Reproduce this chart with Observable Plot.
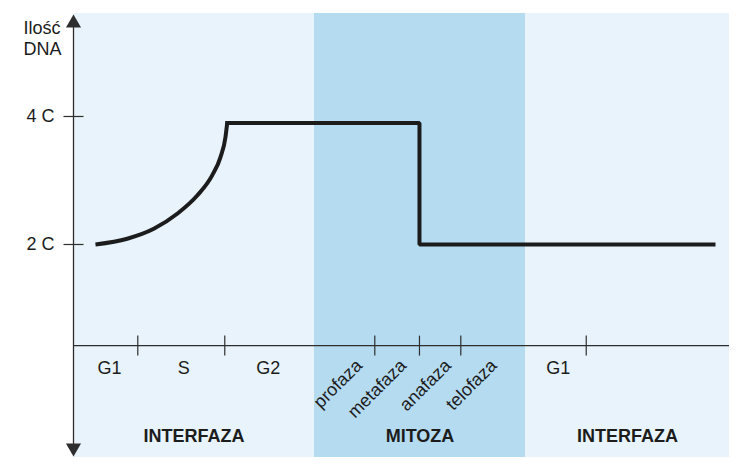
<!DOCTYPE html>
<html lang="pl">
<head>
<meta charset="utf-8">
<script src="https://cdn.jsdelivr.net/npm/d3@7"></script>
<script src="https://cdn.jsdelivr.net/npm/@observablehq/plot@0.6"></script>
<style>
  html, body { margin: 0; padding: 0; background: #fff; }
  #chart svg { display: block; }
</style>
</head>
<body>
<div id="chart"></div>
<script>
// Cell-cycle time runs 0–100 along x; the amount of DNA is in units of C on y.

// Phases shaded behind the curve
const phaseNames = ["INTERFAZA", "MITOZA", "INTERFAZA"];
const phaseStart = [0, 36.74, 68.9];
const phaseEnd = [36.74, 68.9, 100];

// Stage boundaries marked on the time axis
const stageTicks = [9.8, 23.06, 45.93, 52.74, 59.04, 78.16];

// Stage names and where each label sits along the time axis
const stageNames = ["G1", "S", "G2", "profaza", "metafaza", "anafaza", "telofaza", "G1"];
const stageLabelX = [5.5, 16.8, 29.7, 43.55, 50.26, 57.1, 64.07, 73.9];

// DNA amount: rise during S phase
const sPhaseTime = [3.35, 8.19, 12.24, 15.81, 18.86, 21.14, 22.41, 23.17, 23.43];
const sPhaseDNA = [2.0, 2.09, 2.245, 2.48, 2.765, 3.08, 3.365, 3.68, 3.9];

// DNA amount: G2 plateau, drop at anaphase, back to the G1 level
const stepTime = [23.43, 52.74, 52.74, 97.56];
const stepDNA = [3.9, 3.9, 2.0, 2.0];

// Vertical axis
const yTicks = [2, 4];
const yTickLabels = ["2 C", "4 C"];
const yTitle = "Ilość\nDNA";

// Level of the time axis line
const timeBaseline = 0.42;

// ---- tables built from the arrays above ----
const phases = phaseNames.map((name, i) => ({name, start: phaseStart[i], end: phaseEnd[i]}));
const inMitosis = (t) => t >= phaseStart[1] && t <= phaseEnd[1];
const stages = stageNames.map((name, i) => ({name, x: stageLabelX[i], rotated: inMitosis(stageLabelX[i])}));
const sPhase = sPhaseTime.map((t, i) => ({t, dna: sPhaseDNA[i]}));
const steps = stepTime.map((t, i) => ({t, dna: stepDNA[i]}));
const yAxis = yTicks.map((v, i) => ({v, label: yTickLabels[i]}));

// ---- styling ----
const ink = "#1c1c1c";
const axisInk = "#2e2e2e";
const lightBlue = "#e8f3fb";
const darkBlue = "#b5dbf0";
const labelSize = 18;

// short line symbols used for tick marks
const vline = {draw(ctx, size) { const r = Math.sqrt(size / Math.PI); ctx.moveTo(0, -r); ctx.lineTo(0, r); }};
const hline = {draw(ctx, size) { const r = Math.sqrt(size / Math.PI); ctx.moveTo(-r, 0); ctx.lineTo(r, 0); }};

const chart = Plot.plot({
  width: 750,
  height: 470,
  marginLeft: 73,
  marginRight: 21,
  marginTop: 13,
  marginBottom: 13,
  x: {domain: [0, 100], axis: null},
  y: {domain: [-1.328, 5.609], axis: null},
  style: {fontFamily: "'Liberation Sans', Arial, Helvetica, sans-serif", fontSize: "18px", color: ink, background: "#fff"},
  marks: [
    // phase backgrounds
    Plot.rect(phases, {x1: "start", x2: "end", fill: d => d.name === "MITOZA" ? darkBlue : lightBlue}),

    // time axis line and its stage ticks
    Plot.ruleY([timeBaseline], {stroke: axisInk, strokeWidth: 1.2}),
    Plot.dot(stageTicks, {x: d => d, y: () => timeBaseline, symbol: vline, r: 10, fill: "none", stroke: axisInk, strokeWidth: 1.2}),

    // vertical axis with arrowheads at both ends
    Plot.ruleX([0], {stroke: axisInk, strokeWidth: 1.3, insetTop: 8, insetBottom: 8}),
    Plot.dot([0], {x: () => 0, frameAnchor: "top", symbol: "triangle", r: 5.6, fill: axisInk, stroke: "none", dy: 9.7}),
    Plot.dot([0], {x: () => 0, frameAnchor: "bottom", symbol: "triangle", rotate: 180, r: 5.6, fill: axisInk, stroke: "none", dy: -9.7}),
    Plot.dot(yAxis, {x: () => 0, y: "v", symbol: hline, r: 10, fill: "none", stroke: axisInk, strokeWidth: 1.2}),
    Plot.text(yAxis, {x: () => 0, y: "v", text: "label", textAnchor: "end", dx: -19, fontSize: labelSize, fill: ink}),
    Plot.text([yTitle], {text: d => d, frameAnchor: "top-left", textAnchor: "start", lineAnchor: "top", lineHeight: 1.18, dx: -50, dy: 5, fontSize: labelSize, fill: ink}),

    // DNA amount
    Plot.line(sPhase, {x: "t", y: "dna", curve: "monotone-x", stroke: ink, strokeWidth: 4, strokeLinecap: "butt"}),
    Plot.line(steps, {x: "t", y: "dna", stroke: ink, strokeWidth: 4, strokeLinecap: "square", strokeLinejoin: "miter"}),

    // stage labels below the time axis
    Plot.text(stages.filter(d => !d.rotated), {x: "x", y: () => timeBaseline, text: "name", dy: 22.5, fontSize: labelSize, fill: ink}),
    Plot.text(stages.filter(d => d.rotated), {x: "x", y: () => timeBaseline, text: "name", rotate: -45, textAnchor: "end", dy: 17, fontSize: labelSize, fill: ink}),

    // phase names
    Plot.text(phases, {x: d => (d.start + d.end) / 2, text: "name", frameAnchor: "bottom", dy: -16, fontSize: 18, fontWeight: "bold", fill: ink})
  ]
});

document.getElementById("chart").appendChild(chart);
</script>
</body>
</html>
